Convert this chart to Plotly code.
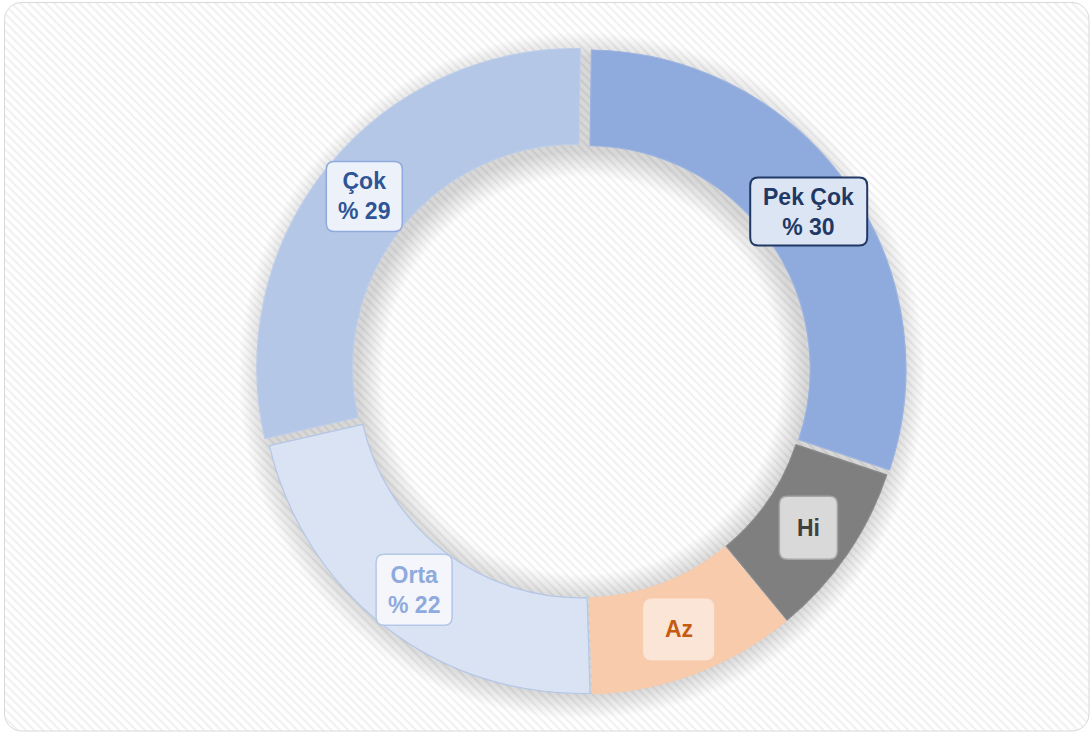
import numpy as np
import plotly.graph_objects as go

# ---- data ----
labels = ["Pek Çok", "Hi", "Az", "Orta", "Çok"]
values = [29.9, 8.9, 10.5, 21.9, 28.8]
show_pct = [True, False, False, True, True]

# ---- styles ----
pulls = [0.019, 0.008, 0.008, 0.008, 0.025]
slice_colors = ["#8FAADC", "#7F7F7F", "#F8CBAD", "#DAE3F3", "#B4C7E7"]
slice_lines = ["#9BB3E0", "#8C8C8C", "#F8CBAD", "#B4C7E7", "#BDCDEA"]
text_colors = ["#1F3864", "#404040", "#C55A11", "#8FAADC", "#2F5597"]
box_fill = ["#DCE5F4", "#D9D9D9", "#FBE5D6", "#F4F6FB", "#EDF2FA"]
box_line = ["#1F3864", "#A6A6A6", "#FBE5D6", "#B4C7E7", "#8FAADC"]
box_lw = [2, 1.5, 1, 1.5, 1.5]
box_size = [(117, 68), (58, 63), (70, 61), (76, 71), (76, 70)]

W, H = 1091, 733
CX, CY = 582.0, 372.5
R = 319.0
HOLE = 0.70
ROT = 0.8
LABEL_R = 272.0
FONT = "Liberation Sans, Arial, sans-serif"

fig = go.Figure()

# background card with hatched pattern
def rounded_rect_pts(x0, y0, x1, y1, r, n=12):
    xs, ys = [], []
    corners = [(x1 - r, y0 + r, -90, 0), (x1 - r, y1 - r, 0, 90),
               (x0 + r, y1 - r, 90, 180), (x0 + r, y0 + r, 180, 270)]
    for cx, cy, a0, a1 in corners:
        for a in np.linspace(np.radians(a0), np.radians(a1), n):
            xs.append(cx + r * np.cos(a))
            ys.append(cy + r * np.sin(a))
    xs.append(xs[0]); ys.append(ys[0])
    return xs, ys

bx, by = rounded_rect_pts(4.5, 2.5, 1089, 731, 17)
fig.add_trace(go.Scatter(
    x=bx, y=by, mode="lines", fill="toself", hoverinfo="skip",
    line=dict(color="#D9D9D9", width=1),
    fillcolor="white",
    fillpattern=dict(shape="\\", fgcolor="#E2E2E2", bgcolor="white", size=6, solidity=0.35),
    showlegend=False))

# soft shadow around ring
def annulus(cx, cy, ro, ri, n=180):
    t = np.linspace(0, 2 * np.pi, n)
    xs = list(cx + ro * np.sin(t)) + list(cx + ri * np.sin(t[::-1]))
    ys = list(cy - ro * np.cos(t)) + list(cy - ri * np.cos(t[::-1]))
    xs.append(xs[0]); ys.append(ys[0])
    return xs, ys

for s in range(0, 26, 2):
    ax, ay = annulus(CX, CY + 3, R + s, R * HOLE - s)
    fig.add_trace(go.Scatter(x=ax, y=ay, mode="lines", fill="toself", hoverinfo="skip",
                             line=dict(width=0), fillcolor="rgba(0,0,0,0.013)",
                             showlegend=False))

# donut
max_pull = max(pulls)
size = 2 * R * (1 + max_pull)
fig.add_trace(go.Pie(
    labels=labels, values=values, sort=False, direction="clockwise", rotation=ROT,
    hole=HOLE, pull=pulls, textinfo="none", hoverinfo="label+percent",
    marker=dict(colors=slice_colors, line=dict(color=slice_lines, width=1.2)),
    domain=dict(x=[(CX - size / 2) / W, (CX + size / 2) / W],
                y=[(H - CY - size / 2) / H, (H - CY + size / 2) / H]),
    showlegend=False))

# labels
total = sum(values)
cum = np.cumsum([0] + values)
shapes, annotations = [], []
for i, (lab, v) in enumerate(zip(labels, values)):
    mid = np.radians(ROT) + (cum[i] + v / 2) / total * 2 * np.pi
    rr = LABEL_R + pulls[i] * R
    lx = CX + rr * np.sin(mid)
    ly = CY - rr * np.cos(mid)
    bw, bh = box_size[i]
    x0, x1, y0, y1 = lx - bw / 2, lx + bw / 2, ly - bh / 2, ly + bh / 2
    r = 8
    path = (f"M {x0+r},{y0} L {x1-r},{y0} Q {x1},{y0} {x1},{y0+r} "
            f"L {x1},{y1-r} Q {x1},{y1} {x1-r},{y1} L {x0+r},{y1} "
            f"Q {x0},{y1} {x0},{y1-r} L {x0},{y0+r} Q {x0},{y0} {x0+r},{y0} Z")
    shapes.append(dict(type="path", path=path, xref="x", yref="y", layer="above",
                       fillcolor=box_fill[i], line=dict(color=box_line[i], width=box_lw[i])))
    txt = f"<b>{lab}</b>" + (f"<br><b>% {round(v / total * 100)}</b>" if show_pct[i] else "")
    annotations.append(dict(x=lx, y=ly, xref="x", yref="y", text=txt, showarrow=False,
                            font=dict(family=FONT, size=23, color=text_colors[i]),
                            align="center", xanchor="center", yanchor="middle"))

fig.update_layout(
    width=W, height=H, margin=dict(l=0, r=0, t=0, b=0),
    paper_bgcolor="white", plot_bgcolor="white",
    xaxis=dict(range=[0, W], visible=False, fixedrange=True),
    yaxis=dict(range=[H, 0], visible=False, fixedrange=True),
    shapes=shapes, annotations=annotations, showlegend=False,
)

fig.write_html("out.html", config={"displayModeBar": False},
               post_script="document.body.style.margin='0';document.body.style.overflow='hidden';")
